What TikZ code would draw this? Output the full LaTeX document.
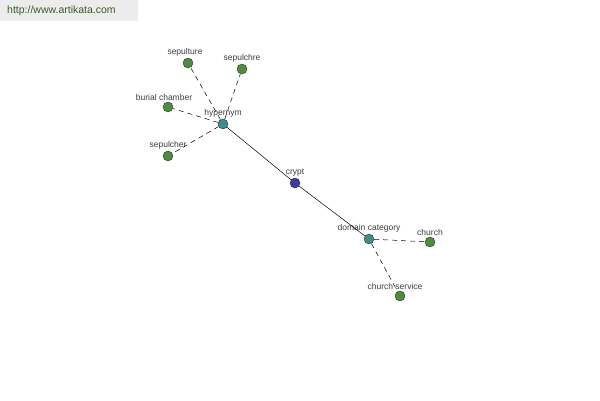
\documentclass[tikz,border=0pt]{standalone}
\usepackage{fontspec}
\setmainfont{Liberation Sans}
\usepackage{xcolor}
\definecolor{leafgreen}{RGB}{78,140,62}
\definecolor{hubteal}{RGB}{62,140,140}
\definecolor{rootblue}{RGB}{58,60,158}
\definecolor{urlgreen}{RGB}{60,90,40}
\definecolor{bannergray}{RGB}{236,236,236}
\definecolor{lblgray}{RGB}{60,60,60}

\begin{document}
\begin{tikzpicture}[x=1pt,y=-1pt,
  dot/.style={circle,draw=black!80,line width=0.4pt,minimum size=10pt,inner sep=0pt},
  leaf/.style={dot,fill=leafgreen},
  hub/.style={dot,fill=hubteal},
  root/.style={dot,fill=rootblue},
  lbl/.style={font=\fontsize{8.5}{9}\selectfont,text=lblgray,inner sep=0.5pt},
  rel/.style={dash pattern=on 5pt off 4pt,line width=0.5pt},
  link/.style={line width=0.5pt}]
\useasboundingbox (0,0) rectangle (600,400);

% banner
\fill[bannergray] (0,0) rectangle (138,21);
\node[anchor=west,font=\fontsize{10.5}{11}\selectfont,text=urlgreen,inner sep=0pt] (url) at (7,11) {http://www.artikata.com};

% main chain
\node[root,label={[lbl,label distance=0.5pt]above:crypt}] (crypt) at (295,183) {};
\node[hub,label={[lbl,label distance=0.5pt]above:hypernym}] (hyp) at (223,124) {};
\node[hub,label={[lbl,label distance=0.5pt]above:domain category}] (dom) at (369,239) {};

% hypernym leaves
\node[leaf,label={[lbl,label distance=0.5pt,xshift=-3pt]above:sepulture}] (sepulture) at (188,63) {};
\node[leaf,label={[lbl,label distance=0.5pt]above:sepulchre}] (sepulchre) at (242,69) {};
\node[leaf,label={[lbl,label distance=0.5pt,xshift=-4pt]above:burial chamber}] (burial) at (168,107) {};
\node[leaf,label={[lbl,label distance=0.5pt]above:sepulcher}] (sepulcher) at (168,156) {};

% domain leaves
\node[leaf,label={[lbl,label distance=0.5pt]above:church}] (church) at (430,242) {};
\node[leaf,label={[lbl,label distance=0.5pt,xshift=-5pt]above:church service}] (service) at (400,296) {};

% connectors
\draw[link] (hyp) -- (crypt);
\draw[link] (crypt) -- (dom);
\foreach \n in {sepulture,sepulchre,burial,sepulcher}
  \draw[rel] (hyp) -- (\n);
\foreach \n in {church,service}
  \draw[rel] (dom) -- (\n);
\end{tikzpicture}
\end{document}
